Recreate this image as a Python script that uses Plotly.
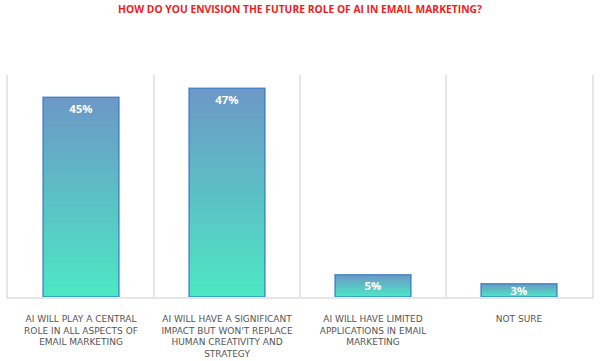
import plotly.graph_objects as go

# ---- data ----
categories = [
    "AI WILL PLAY A CENTRAL<br>ROLE IN ALL ASPECTS OF<br>EMAIL MARKETING",
    "AI WILL HAVE A SIGNIFICANT<br>IMPACT BUT WON'T REPLACE<br>HUMAN CREATIVITY AND<br>STRATEGY",
    "AI WILL HAVE LIMITED<br>APPLICATIONS IN EMAIL<br>MARKETING",
    "NOT SURE",
]
values = [45, 47, 5, 3]
value_labels = [f"{v}%" for v in values]
title_text = "HOW DO YOU ENVISION THE FUTURE ROLE OF AI IN EMAIL MARKETING?"

# ---- style ----
top_rgb = (108, 152, 198)
bottom_rgb = (76, 232, 196)
N = 40
bar_w = 0.52
font_family = "Open Sans, Lato, sans-serif"
label_font = "DejaVu Sans, sans-serif"
small_threshold = 10


def mix(t):
    # t = 0 at bottom, 1 at top
    r = [round(bottom_rgb[j] + (top_rgb[j] - bottom_rgb[j]) * t) for j in range(3)]
    return f"rgb({r[0]},{r[1]},{r[2]})"


fig = go.Figure()
for k in range(N):
    frac = (N - k) / N
    fig.add_trace(go.Bar(
        x=categories,
        y=[v * frac for v in values],
        width=bar_w,
        marker=dict(color=mix((N - k - 0.5) / N), line=dict(width=0)),
        hoverinfo="skip",
        showlegend=False,
    ))

big_text = [t if v >= small_threshold else "" for t, v in zip(value_labels, values)]
small_text = [t if v < small_threshold else "" for t, v in zip(value_labels, values)]

# outline + labels at top (tall bars)
fig.add_trace(go.Bar(
    x=categories,
    y=values,
    width=bar_w,
    marker=dict(color="rgba(0,0,0,0)", line=dict(color="rgba(45,115,195,0.75)", width=1.5)),
    text=big_text,
    textposition="inside",
    insidetextanchor="end",
    textfont=dict(family=font_family, size=12, color="white", weight=700),
    hoverinfo="skip",
    showlegend=False,
))
# labels centred (short bars)
fig.add_trace(go.Bar(
    x=categories,
    y=values,
    width=bar_w,
    marker=dict(color="rgba(0,0,0,0)", line=dict(width=0)),
    text=small_text,
    textposition="inside",
    insidetextanchor="middle",
    textfont=dict(family=font_family, size=12, color="white", weight=700),
    hoverinfo="skip",
    showlegend=False,
))

fig.update_layout(
    barmode="overlay",
    width=600,
    height=361,
    margin=dict(l=8, r=8, t=75, b=64, autoexpand=False),
    paper_bgcolor="white",
    plot_bgcolor="white",
    uniformtext=dict(minsize=11, mode="show"),
    title=dict(
        text=title_text,
        x=0.5, xanchor="center",
        y=1 - 9 / 361, yanchor="middle", yref="container",
        font=dict(family=font_family, size=10.3, color="#f21b1b", weight=700),
    ),
    xaxis=dict(
        tickson="boundaries",
        showgrid=True,
        gridcolor="#e6e6ea",
        gridwidth=2,
        showline=True,
        linecolor="#e6e6ea",
        linewidth=2,
        ticks="",
        ticklabelstandoff=12,
        tickangle=0,
        tickfont=dict(family=label_font, size=9, color="#555555"),
        range=[-0.5, 3.5],
        automargin=False,
        fixedrange=True,
    ),
    yaxis=dict(
        range=[0, 50],
        showgrid=False,
        showticklabels=False,
        zeroline=False,
        showline=True,
        mirror=True,
        linecolor="#e6e6ea",
        linewidth=2,
        fixedrange=True,
    ),
)

fig.write_html(
    "out.html",
    config={"displayModeBar": False},
    post_script="document.body.style.margin='0';",
)
